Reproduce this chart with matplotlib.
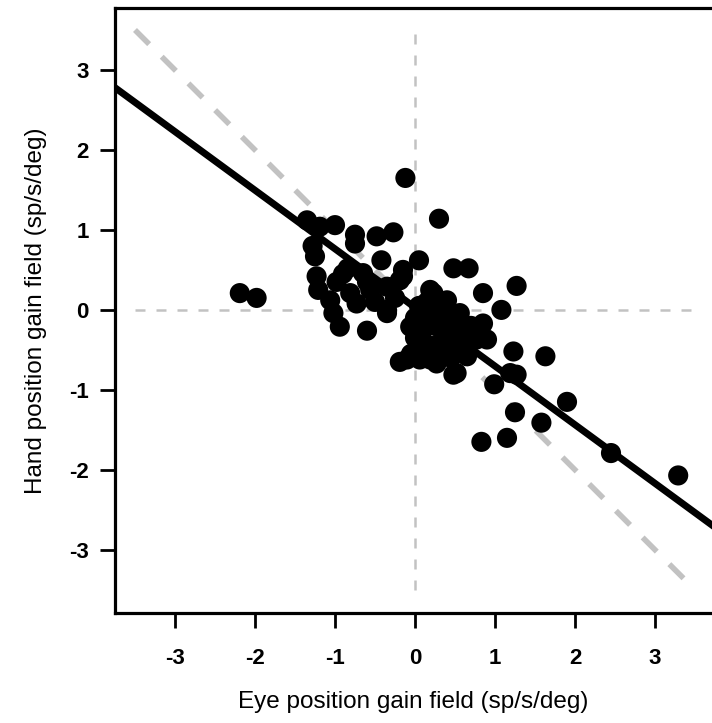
import matplotlib.pyplot as plt
import numpy as np

plt.rcParams['font.family'] = ['Liberation Sans', 'DejaVu Sans']

# gain field estimates (sp/s/deg)
eyeGain = [
    -2.19, -1.98,
    -1.35, -1.19, -1.00, -0.75, -0.75, -0.48, -0.27, -1.28, -1.25, -1.23, -1.21,
    -0.84, -0.98, -0.65, -0.42, -0.15, -0.19, -0.35, -0.56, -0.81, -1.06, -0.73,
    -1.02, -0.35, -0.94, -0.60, -0.35, -0.06, -0.19, -0.50, -0.25, -0.90, -0.60,
    -0.12, 0.30, 0.05, 0.48, 0.67, -0.15,
    0.19, 0.40, 0.23, 0.23, 0.85, 1.27, 1.08, 0.31, 0.56, 0.85, 0.90, 0.77, 0.10,
    0.40, -0.10, 0.06, 0.19, 0.27, 0.44, 0.65, 0.52, 0.48,
    0.15, 0.25, 0.35, 0.50, 0.20, 0.35, 0.10, 0.60, 0.45, 0.05, 0.30, 0.55, 0.15,
    0.00, 0.70,
    0.20, 0.30, 0.40, 0.55, 0.25, 0.05, 0.45, 0.65, 0.35, 0.15, 0.00, -0.05, 0.10,
    1.23, 1.63, 0.99, 1.19, 1.27, 1.25, 1.90, 1.58, 0.83, 1.15, 2.45, 3.29,
]
handGain = [
    0.21, 0.15,
    1.12, 1.04, 1.06, 0.94, 0.83, 0.92, 0.97, 0.80, 0.67, 0.42, 0.25,
    0.52, 0.35, 0.46, 0.62, 0.50, 0.37, 0.29, 0.25, 0.21, 0.12, 0.08,
    -0.04, 0.00, -0.21, -0.26, -0.04, -0.21, -0.65, 0.10, 0.15, 0.45, 0.35,
    1.65, 1.14, 0.62, 0.52, 0.52, 0.42,
    0.25, 0.12, 0.21, 0.12, 0.21, 0.30, 0.00, -0.08, -0.04, -0.17, -0.37, -0.37, -0.25,
    -0.29, -0.62, -0.62, -0.62, -0.67, -0.50, -0.58, -0.79, -0.81,
    -0.10, -0.20, -0.35, -0.20, -0.45, -0.55, -0.40, -0.35, -0.10, 0.05, 0.05, -0.50, -0.55,
    -0.10, -0.20,
    -0.05, -0.15, -0.40, -0.30, -0.55, -0.50, -0.60, -0.40, 0.05, 0.10, -0.35, -0.55, -0.60,
    -0.52, -0.58, -0.93, -0.79, -0.81, -1.28, -1.15, -1.41, -1.65, -1.60, -1.79, -2.07,
]

fitSlope = -0.733
fitIntercept = 0.03
ticks = [-3, -2, -1, 0, 1, 2, 3]

fig = plt.figure(figsize=(7.12, 7.23), dpi=100)
ax = fig.add_axes([115 / 712, 110 / 723, 597 / 712, 605 / 723])

gray = '#c2c2c2'
ax.plot([-3.5, 3.5], [0, 0], color=gray, lw=1.8, dashes=(4.0, 4.4), zorder=1)
ax.plot([0, 0], [-3.5, 3.5], color=gray, lw=1.8, dashes=(4.0, 4.4), zorder=1)
ax.plot([-3.5, 3.5], [3.5, -3.5], color=gray, lw=4, dashes=(3.6, 3.2), zorder=1)

ax.scatter(eyeGain, handGain, s=210, color='black', edgecolors='none', zorder=3)

xs = np.array([-4.0, 4.0])
ax.plot(xs, fitIntercept + fitSlope * xs, color='black', lw=5, zorder=2)

ax.set_xlim(-3.75, 3.7125)
ax.set_ylim(-3.79, 3.775)
ax.set_xticks(ticks)
ax.set_yticks(ticks)
ax.set_xticklabels([str(t) for t in ticks], fontweight='bold', fontsize=16)
ax.set_yticklabels([str(t) for t in ticks], fontweight='bold', fontsize=16)
ax.tick_params(length=11, width=2, direction='out')
ax.tick_params(axis='x', pad=14)
ax.tick_params(axis='y', pad=8)
ax.spines['right'].set_visible(False)
for s in ['left', 'bottom', 'top']:
    ax.spines[s].set_linewidth(2.3)

ax.set_xlabel('Eye position gain field (sp/s/deg)', fontsize=17.5, labelpad=16)
ax.set_ylabel('Hand position gain field (sp/s/deg)', fontsize=17.5, labelpad=16)

fig.savefig('out.png', dpi=100)
